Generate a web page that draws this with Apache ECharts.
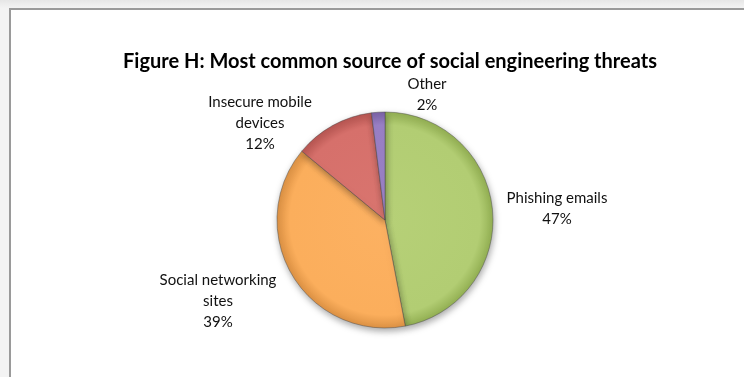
<!DOCTYPE html>
<html>
<head>
<meta charset="utf-8">
<title>Figure H</title>
<script src="https://cdn.jsdelivr.net/npm/echarts@6/dist/echarts.min.js"></script>
<style type="text/css">
    html, body { margin: 0; padding: 0; }
    body {
        width: 744px; height: 377px; overflow: hidden; position: relative;
        background: linear-gradient(to bottom, #e6e6e6 0px, #f3f3f3 8px, #f3f3f3 100%);
    }
    .frame {
        position: absolute; left: 9px; top: 8px; width: 780px; height: 420px;
        background: #fff;
        border-left: 2px solid #9a9a9a;
        border-top: 2px solid #9a9a9a;
    }
    #main { position: absolute; left: 0; top: 0; width: 744px; height: 377px; }
</style>
</head>
<body>
<div class="frame"></div>
<div id="main"></div>
<script>
    // data
    var categories = ['Phishing emails', 'Social networking sites', 'Insecure mobile devices', 'Other'];
    var labelText = ['Phishing emails', 'Social networking\nsites', 'Insecure mobile\ndevices', 'Other'];
    var values = [47, 39, 12, 2];

    // layout
    var cx = 385, cy = 220, r = 108;
    var labelPos = [[557, 209], [218, 301], [260, 123], [427, 95]];
    var colors = [
        ['#b6d077', '#b2cd73', '#93b053'],
        ['#fcb162', '#fbae5c', '#dd9244'],
        ['#d9756f', '#d6706b', '#b85652'],
        ['#9e84c9', '#9a80c6', '#7a62a6']
    ];

    function shade(c) {
        return {
            type: 'radial', x: cx, y: cy, r: r, global: true,
            colorStops: [
                {offset: 0, color: c[0]},
                {offset: 0.88, color: c[1]},
                {offset: 1, color: c[2]}
            ]
        };
    }

    var myChart = echarts.init(document.getElementById('main'));
    var option = {
        backgroundColor: 'transparent',
        animation: false,
        title: {
            text: 'Figure H: Most common source of social engineering threats',
            left: cx, top: 47, textAlign: 'center',
            textStyle: {fontFamily: 'Lato', fontWeight: 'bold', fontSize: 20, color: '#000'}
        },
        series: [{
            type: 'pie',
            center: [cx, cy],
            radius: r,
            startAngle: 90,
            clockwise: true,
            avoidLabelOverlap: false,
            data: categories.map(function (name, i) {
                return {
                    name: name,
                    value: values[i],
                    itemStyle: {color: shade(colors[i])}
                };
            }),
            itemStyle: {
                borderColor: 'rgba(70,70,70,0.55)',
                borderWidth: 0.8,
                shadowBlur: 7,
                shadowOffsetX: 1,
                shadowOffsetY: 3,
                shadowColor: 'rgba(0,0,0,0.35)'
            },
            label: {
                show: true,
                position: 'outside',
                fontFamily: 'Lato',
                fontSize: 15,
                lineHeight: 21,
                color: '#111',
                align: 'center',
                formatter: function (p) {
                    return labelText[p.dataIndex] + '\n' + Math.round(p.percent) + '%';
                }
            },
            labelLine: {show: false},
            labelLayout: function (p) {
                var pos = labelPos[p.dataIndex];
                return {x: pos[0], y: pos[1], align: 'center', verticalAlign: 'middle'};
            },
            emphasis: {disabled: true}
        }]
    };
    myChart.setOption(option);
</script>
</body>
</html>
